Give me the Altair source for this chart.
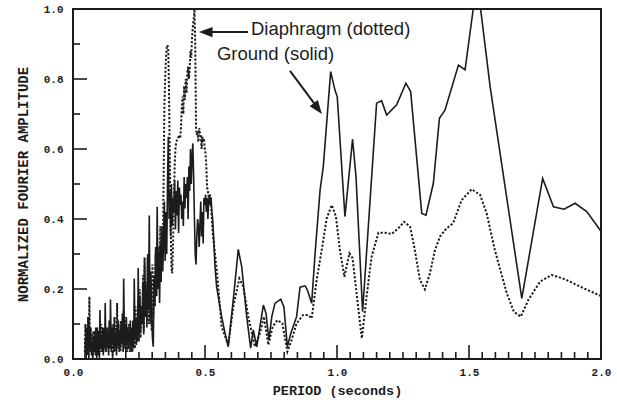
import altair as alt
import pandas as pd

# ---------------- data ----------------
# densely sampled short-period part (shared period grid)
PERIOD_DENSE = [
    0.045, 0.047, 0.050, 0.052, 0.055, 0.057, 0.060, 0.062, 0.065, 0.067,
    0.070, 0.072, 0.075, 0.077, 0.080, 0.082, 0.085, 0.087, 0.090, 0.092,
    0.095, 0.097, 0.100, 0.102, 0.105, 0.107, 0.110, 0.112, 0.115, 0.117,
    0.120, 0.122, 0.125, 0.127, 0.130, 0.132, 0.135, 0.137, 0.140, 0.142,
    0.145, 0.147, 0.150, 0.152, 0.155, 0.157, 0.160, 0.162, 0.165, 0.167,
    0.170, 0.172, 0.175, 0.177, 0.180, 0.182, 0.185, 0.187, 0.190, 0.192,
    0.195, 0.197, 0.200, 0.202, 0.205, 0.207, 0.210, 0.212, 0.215, 0.217,
    0.220, 0.222, 0.225, 0.227, 0.230, 0.232, 0.235, 0.237, 0.240, 0.242,
    0.245, 0.247, 0.250, 0.253, 0.256, 0.259, 0.262, 0.265, 0.268, 0.271,
    0.274, 0.277, 0.280, 0.283, 0.286, 0.289, 0.292, 0.295, 0.298, 0.301,
    0.304, 0.307, 0.310, 0.313, 0.316, 0.319, 0.322, 0.325, 0.328, 0.331,
    0.334, 0.337, 0.340, 0.343, 0.346, 0.349, 0.352, 0.355, 0.358, 0.361,
    0.364, 0.367, 0.370, 0.373, 0.376, 0.379, 0.382, 0.385, 0.388, 0.391,
    0.394, 0.397, 0.400, 0.403, 0.406, 0.409, 0.412, 0.415, 0.418, 0.421,
    0.424, 0.427, 0.430, 0.433, 0.436, 0.439, 0.442, 0.445, 0.448, 0.451,
    0.454, 0.457, 0.460, 0.463, 0.466, 0.469, 0.472, 0.475, 0.478, 0.481,
    0.484, 0.487, 0.490, 0.493, 0.496, 0.499, 0.502, 0.505, 0.508, 0.511,
    0.514, 0.517, 0.520, 0.523, 0.526, 0.529,
]

GROUND_DENSE = [
    0.00, 0.06, 0.01, 0.09, 0.02, 0.10, 0.00, 0.08, 0.03, 0.07,
    0.01, 0.05, 0.00, 0.06, 0.02, 0.08, 0.01, 0.06, 0.00, 0.09,
    0.02, 0.08, 0.01, 0.14, 0.03, 0.07, 0.02, 0.09, 0.01, 0.08,
    0.03, 0.16, 0.02, 0.09, 0.04, 0.08, 0.01, 0.11, 0.03, 0.17,
    0.02, 0.09, 0.04, 0.10, 0.02, 0.08, 0.03, 0.07, 0.01, 0.09,
    0.04, 0.11, 0.02, 0.08, 0.03, 0.10, 0.05, 0.13, 0.02, 0.23,
    0.04, 0.10, 0.02, 0.12, 0.05, 0.09, 0.03, 0.08, 0.06, 0.11,
    0.02, 0.07, 0.04, 0.10, 0.03, 0.23, 0.06, 0.12, 0.04, 0.09,
    0.07, 0.26, 0.05, 0.18, 0.08, 0.15, 0.10, 0.22, 0.07, 0.27,
    0.12, 0.20, 0.09, 0.30, 0.14, 0.41, 0.10, 0.25, 0.13, 0.06,
    0.035, 0.22, 0.15, 0.32, 0.18, 0.435, 0.20, 0.30, 0.16, 0.33,
    0.22, 0.38, 0.25, 0.34, 0.45, 0.28, 0.42, 0.30, 0.50, 0.635,
    0.40, 0.48, 0.35, 0.50, 0.38, 0.46, 0.42, 0.51, 0.37, 0.48,
    0.41, 0.51, 0.36, 0.49, 0.44, 0.47, 0.40, 0.45, 0.38, 0.52,
    0.43, 0.50, 0.46, 0.52, 0.40, 0.55, 0.48, 0.60, 0.50, 0.58,
    0.616, 0.52, 0.40, 0.30, 0.27, 0.35, 0.40, 0.38, 0.32, 0.39,
    0.45, 0.35, 0.42, 0.33, 0.46, 0.44, 0.47, 0.42, 0.46, 0.40,
    0.45, 0.47, 0.44, 0.46, 0.42, 0.40,
]

DIAPH_DENSE = [
    0.02, 0.10, 0.03, 0.07, 0.01, 0.12, 0.04, 0.178, 0.02, 0.09,
    0.03, 0.07, 0.01, 0.08, 0.04, 0.06, 0.02, 0.09, 0.03, 0.07,
    0.01, 0.06, 0.03, 0.08, 0.02, 0.10, 0.04, 0.07, 0.02, 0.09,
    0.04, 0.08, 0.02, 0.06, 0.03, 0.09, 0.02, 0.07, 0.04, 0.10,
    0.03, 0.08, 0.01, 0.07, 0.04, 0.12, 0.02, 0.09, 0.05, 0.16,
    0.03, 0.10, 0.05, 0.08, 0.02, 0.11, 0.04, 0.09, 0.06, 0.14,
    0.03, 0.12, 0.05, 0.09, 0.02, 0.08, 0.04, 0.10, 0.02, 0.07,
    0.04, 0.09, 0.02, 0.11, 0.05, 0.08, 0.03, 0.15, 0.06, 0.12,
    0.05, 0.17, 0.08, 0.20, 0.06, 0.15, 0.10, 0.24, 0.08, 0.29,
    0.12, 0.22, 0.15, 0.29, 0.10, 0.25, 0.14, 0.20, 0.08, 0.27,
    0.12, 0.24, 0.15, 0.30, 0.18, 0.25, 0.22, 0.32, 0.25, 0.38,
    0.28, 0.35, 0.30, 0.50, 0.72, 0.80, 0.86, 0.89, 0.897, 0.88,
    0.75, 0.55, 0.38, 0.26, 0.245, 0.33, 0.45, 0.55, 0.60, 0.62,
    0.626, 0.63, 0.635, 0.64, 0.63, 0.66, 0.72, 0.75, 0.70, 0.78,
    0.74, 0.80, 0.76, 0.82, 0.835, 0.80, 0.83, 0.88, 0.86, 0.92,
    0.95, 0.97, 1.00, 0.90, 0.66, 0.64, 0.65, 0.62, 0.66, 0.645,
    0.64, 0.60, 0.635, 0.62, 0.63, 0.60, 0.588, 0.55, 0.49, 0.48,
    0.46, 0.45, 0.47, 0.44, 0.40, 0.36,
]

# longer-period part: Ground (solid)
GROUND_PERIOD = [
    0.532, 0.538, 0.544, 0.563, 0.576, 0.588, 0.607, 0.626, 0.639, 0.658,
    0.673, 0.683, 0.696, 0.708, 0.721, 0.731, 0.742, 0.753, 0.765, 0.787,
    0.799, 0.812, 0.825, 0.847, 0.860, 0.879, 0.888, 0.904, 0.917, 0.936,
    0.948, 0.976, 0.992, 1.001, 1.030, 1.059, 1.072, 1.097, 1.150, 1.169,
    1.188, 1.226, 1.261, 1.279, 1.321, 1.337, 1.365, 1.388, 1.409, 1.460,
    1.485, 1.516, 1.544, 1.580, 1.700, 1.779, 1.820, 1.860, 1.902, 1.946,
    2.000,
]
GROUND_AMP = [
    0.359, 0.264, 0.207, 0.121, 0.073, 0.035, 0.169, 0.313, 0.264, 0.121,
    0.031, 0.083, 0.035, 0.092, 0.154, 0.131, 0.054, 0.121, 0.159, 0.171,
    0.149, 0.035, 0.073, 0.121, 0.205, 0.209, 0.197, 0.159, 0.302, 0.483,
    0.549, 0.821, 0.769, 0.749, 0.407, 0.628, 0.521, 0.135, 0.731, 0.738,
    0.697, 0.726, 0.788, 0.764, 0.416, 0.411, 0.502, 0.688, 0.711, 0.840,
    0.826, 1.000, 1.000, 0.778, 0.173, 0.516, 0.435, 0.428, 0.445, 0.421,
    0.365,
]

# longer-period part: Diaphragm (dotted)
DIAPH_PERIOD = [
    0.538, 0.545, 0.563, 0.588, 0.607, 0.630, 0.645, 0.664, 0.689, 0.708,
    0.723, 0.740, 0.756, 0.774, 0.793, 0.812, 0.828, 0.847, 0.872, 0.891,
    0.904, 0.923, 0.942, 0.961, 0.980, 0.996, 1.011, 1.028, 1.047, 1.059,
    1.077, 1.094, 1.112, 1.131, 1.157, 1.182, 1.207, 1.232, 1.254, 1.277,
    1.295, 1.314, 1.333, 1.352, 1.371, 1.390, 1.415, 1.440, 1.472, 1.510,
    1.542, 1.567, 1.598, 1.643, 1.670, 1.696, 1.725, 1.769, 1.813, 1.864,
    1.920, 2.000,
]
DIAPH_AMP = [
    0.300, 0.250, 0.092, 0.040, 0.149, 0.230, 0.207, 0.121, 0.035, 0.073,
    0.121, 0.040, 0.092, 0.111, 0.102, 0.021, 0.054, 0.102, 0.126, 0.126,
    0.116, 0.226, 0.311, 0.402, 0.440, 0.407, 0.311, 0.235, 0.302, 0.288,
    0.169, 0.059, 0.178, 0.292, 0.361, 0.361, 0.357, 0.373, 0.392, 0.378,
    0.311, 0.226, 0.199, 0.245, 0.311, 0.350, 0.373, 0.388, 0.454, 0.485,
    0.469, 0.416, 0.311, 0.188, 0.135, 0.121, 0.169, 0.221, 0.240, 0.228,
    0.207, 0.180,
]

# axis tick positions
X_MAJOR = [0.0, 0.5, 1.0, 1.5, 2.0]
X_MINOR = [
    0.05, 0.1, 0.15, 0.2, 0.25, 0.3, 0.35, 0.4, 0.45,
    0.55, 0.6, 0.65, 0.7, 0.75, 0.8, 0.85, 0.9, 0.95,
    1.05, 1.1, 1.15, 1.2, 1.25, 1.3, 1.35, 1.4, 1.45,
    1.55, 1.6, 1.65, 1.7, 1.75, 1.8, 1.85, 1.9, 1.95,
]
Y_MAJOR = [0.0, 0.2, 0.4, 0.6, 0.8, 1.0]
Y_MINOR = [0.1, 0.3, 0.5, 0.7, 0.9]

LABELS = ["Diaphragm (dotted)", "Ground (solid)"]

# ---------------- frames ----------------
ground = pd.DataFrame({"period": PERIOD_DENSE + GROUND_PERIOD,
                       "amp": GROUND_DENSE + GROUND_AMP})
diaph = pd.DataFrame({"period": PERIOD_DENSE + DIAPH_PERIOD,
                      "amp": DIAPH_DENSE + DIAPH_AMP})

# annotation placement (data coordinates)
label_df = pd.DataFrame({"period": [0.674, 0.545], "amp": [0.926, 0.854],
                         "text": LABELS})
shaft_df = pd.DataFrame({"period": [0.663, 0.822], "amp": [0.934, 0.823],
                         "p2": [0.527, 0.922], "a2": [0.934, 0.722]})
head_df = pd.DataFrame({"period": [0.477, 0.943], "amp": [0.934, 0.700],
                        "ang": [270, 143]})

INK = "#1c1c1c"
MONO = "Liberation Mono"
H = 350
W = 528
XMAX = 2.0
YMAX = 1.0

x_axis = alt.Axis(
    values=X_MAJOR, format=".1f",
    title="PERIOD (seconds)",
    ticks=False, domain=False, grid=False,
    labelFont=MONO, labelFontWeight="bold", labelFontSize=11, labelColor=INK,
    labelPadding=7, labelFlush=False, labelOverlap=False,
    titleFont=MONO, titleFontWeight="bold", titleFontSize=13.5, titleColor=INK,
    titlePadding=6,
)
y_axis = alt.Axis(
    values=Y_MAJOR, format=".1f",
    title="NORMALIZED FOURIER AMPLITUDE",
    ticks=False, domain=False, grid=False,
    labelFont=MONO, labelFontWeight="bold", labelFontSize=11, labelColor=INK,
    labelPadding=10, labelFlush=False, labelOverlap=False,
    titleFont=MONO, titleFontWeight="bold", titleFontSize=14, titleColor=INK,
    titlePadding=13,
)

xs = alt.Scale(domain=[0, XMAX], nice=False, zero=False)
ys = alt.Scale(domain=[0, YMAX], nice=False, zero=False)


# inward tick marks (lengths in pixels converted to axis units)
def xticks(vals, length_px):
    df = pd.DataFrame({"period": vals})
    df["p2"] = df["period"]
    df["amp"] = 0.0
    df["a2"] = YMAX * length_px / H
    return alt.Chart(df).mark_rule(color=INK, strokeWidth=1.6).encode(
        x="period:Q", x2="p2:Q", y="amp:Q", y2="a2:Q"
    )


def yticks(vals, length_px):
    df = pd.DataFrame({"amp": vals})
    df["a2"] = df["amp"]
    df["period"] = 0.0
    df["p2"] = XMAX * length_px / W
    return alt.Chart(df).mark_rule(color=INK, strokeWidth=1.6).encode(
        x="period:Q", x2="p2:Q", y="amp:Q", y2="a2:Q"
    )


# first layer carries scales and axes; tick layers come first
xt_major = xticks(X_MAJOR, 14).encode(
    x=alt.X("period:Q", scale=xs, axis=x_axis),
    y=alt.Y("amp:Q", scale=ys, axis=y_axis),
)

ground_line = alt.Chart(ground).mark_line(
    color=INK, strokeWidth=1.6
).encode(x="period:Q", y="amp:Q")

diaph_line = alt.Chart(diaph).mark_line(
    color=INK, strokeWidth=2.0, strokeDash=[2.2, 1.8]
).encode(x="period:Q", y="amp:Q")

labels = alt.Chart(label_df).mark_text(
    align="left", baseline="alphabetic", font="Liberation Sans",
    fontSize=18.5, color=INK
).encode(x="period:Q", y="amp:Q", text="text:N")

shafts = alt.Chart(shaft_df).mark_rule(color=INK, strokeWidth=2).encode(
    x="period:Q", y="amp:Q", x2="p2:Q", y2="a2:Q"
)

ARROW = "M0,0L0.6,1.6L-0.6,1.6Z"
heads = alt.Chart(head_df).mark_point(
    shape=ARROW, filled=True, size=290, color=INK, opacity=1, strokeWidth=0
).encode(x="period:Q", y="amp:Q", angle=alt.Angle("ang:Q", scale=None))

chart = alt.layer(
    xt_major, xticks(X_MINOR, 7),
    yticks(Y_MAJOR, 14), yticks(Y_MINOR, 7),
    ground_line, diaph_line,
    shafts, heads, labels,
).properties(
    width=W, height=H,
    autosize=alt.AutoSizeParams(type="none"),
    padding={"left": 73, "top": 9, "right": 16, "bottom": 41},
    background="white",
).configure_view(stroke=INK, strokeWidth=2)

chart.save("out.html", embed_options={"renderer": "svg", "actions": False})
